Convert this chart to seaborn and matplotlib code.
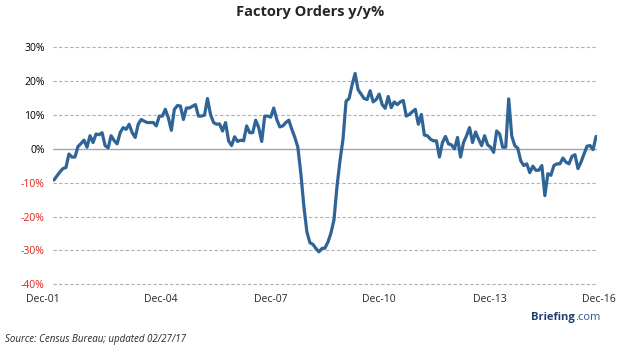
import numpy as np
import pandas as pd
import matplotlib.pyplot as plt
import matplotlib.transforms as mtrans
import seaborn as sns

# data: factory orders y/y %, monthly from Dec-01
orders_yy = [
    -9.2, -8.0, -6.8, -5.8, -5.5, -1.5, -2.4, -2.4, 0.7, 1.6,
    2.6, 0.5, 3.9, 1.9, 4.4, 4.2, 4.8, 1.0, 0.3, 3.9,
    2.5, 1.5, 4.8, 6.3, 5.8, 7.3, 4.8, 3.4, 7.3, 8.7,
    8.2, 7.8, 7.8, 7.8, 6.8, 9.7, 9.7, 11.7, 9.2, 5.5,
    11.7, 12.8, 12.7, 8.7, 12.1, 12.1, 12.6, 13.1, 9.7, 9.7,
    10.0, 14.9, 10.2, 7.8, 7.3, 7.4, 5.3, 7.8, 2.4, 1.0,
    3.6, 2.2, 2.6, 2.4, 6.8, 4.8, 4.8, 8.5, 6.3, 2.2,
    9.7, 9.7, 9.4, 12.1, 8.7, 6.5, 6.8, 7.8, 8.5, 5.8,
    3.4, 0.5, -7.3, -17.0, -24.5, -27.7, -28.2, -29.4, -30.4, -29.4,
    -29.3, -27.5, -24.8, -20.9, -11.0, -3.4, 3.0, 14.1, 14.9, 18.9,
    22.3, 17.5, 16.2, 14.9, 14.6, 17.2, 13.9, 14.6, 16.2, 13.1,
    12.0, 15.5, 12.2, 13.9, 13.1, 13.9, 14.3, 9.7, 10.2, 11.0,
    11.7, 7.3, 10.2, 4.1, 3.9, 2.9, 2.4, 2.4, -2.4, 1.9,
    3.7, 1.5, 1.2, 0.0, 3.4, -2.4, 1.9, 3.9, 6.3, 1.9,
    5.0, 2.9, 1.0, 3.9, 1.2, 0.5, -1.0, 5.3, 4.4, 0.5,
    0.5, 14.8, 3.9, 1.0, 0.2, -3.5, -4.9, -4.4, -7.0, -5.1,
    -6.3, -6.3, -4.9, -13.8, -7.3, -7.8, -4.9, -4.4, -4.4, -2.7,
    -3.9, -4.4, -2.2, -1.7, -5.8, -3.9, -1.5, 0.8, 1.0, -0.2,
    3.7,
]
x_labels = ['Dec-01', 'Dec-04', 'Dec-07', 'Dec-10', 'Dec-13', 'Dec-16']
y_ticks = [30, 20, 10, 0, -10, -20, -30, -40]

df = pd.DataFrame({'month': np.arange(len(orders_yy)), 'yy': orders_yy})

sns.set_style('white')
plt.rcParams['font.family'] = ['Open Sans', 'DejaVu Sans']

fig = plt.figure(figsize=(6.21, 3.56), dpi=100)
ax = fig.add_axes([0.0853, 0.1966, 0.876, 0.675])

# grid lines
for v in y_ticks:
    if v == 0:
        ax.axhline(v, color='#a6a6a6', lw=1.0, zorder=1)
    else:
        ax.axhline(v, color='#b0b0b0', lw=0.8, ls=(0, (3, 2)), zorder=1)

sns.lineplot(data=df, x='month', y='yy', color='#2f6497', lw=2.3, ax=ax, zorder=3)

ax.set_xlim(-0.3, len(orders_yy) - 0.7)
ax.set_ylim(-40.5, 30.5)
ax.set_yticks(y_ticks)
ax.set_yticklabels([f'{v}%' for v in y_ticks], fontsize=7.5)
for lab, v in zip(ax.get_yticklabels(), y_ticks):
    lab.set_color('#e0201b' if v < 0 else 'black')
ax.set_xticks([i * 36 for i in range(len(x_labels))])
ax.set_xticklabels(x_labels, fontsize=7.5)
ax.tick_params(axis='both', length=0, pad=6)
# labels sit a bit left of their month, as in the original
shifts = [-11, -2, 0, 0, 2, 3]
for lab, dx in zip(ax.get_xticklabels(), shifts):
    lab.set_transform(lab.get_transform() +
                      mtrans.ScaledTranslation(dx / 100, 0, fig.dpi_scale_trans))
ax.set_xlabel('')
ax.set_ylabel('')
for s in ax.spines.values():
    s.set_visible(False)

fig.text(0.5, 0.965, 'Factory Orders y/y%', ha='center', va='center',
         fontsize=10.5, fontweight='bold')
fig.text(0.008, 0.045, 'Source: Census Bureau; updated 02/27/17', ha='left',
         va='center', fontsize=7, style='italic')
t = fig.text(0.855, 0.1, 'Briefing', ha='left', va='baseline', fontsize=8,
             fontweight='bold', color='#1f3f73')
ax.annotate('.com', xy=(1, 0), xycoords=t, ha='left', va='bottom',
            fontsize=8, color='#2a5a9a', annotation_clip=False)

fig.savefig('out.png', dpi=100)
